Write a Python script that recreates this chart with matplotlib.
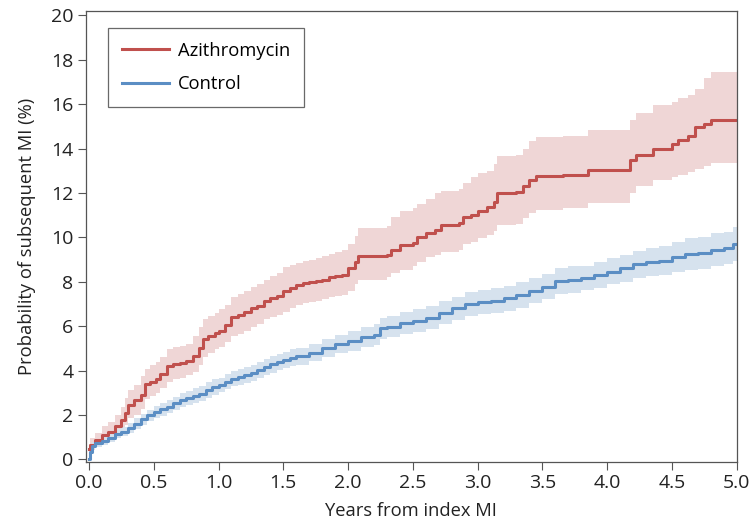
#!/usr/bin/env python3
"""Cumulative incidence of subsequent MI: azithromycin vs control."""
import matplotlib

matplotlib.use("Agg")
import matplotlib.pyplot as plt

plt.rcParams["font.family"] = ["Open Sans", "DejaVu Sans"]

# Azithromycin: time (years), estimate, lower/upper band (%)
azi_t = [0.0, 0.01, 0.05, 0.1, 0.15, 0.2, 0.25, 0.28, 0.3, 0.35, 0.4, 0.43,
         0.47, 0.52, 0.55, 0.6, 0.65, 0.7, 0.75, 0.8, 0.85, 0.88, 0.92, 0.97,
         1.0, 1.05, 1.1, 1.15, 1.2, 1.25, 1.3, 1.35, 1.4, 1.45, 1.5, 1.55,
         1.6, 1.65, 1.7, 1.75, 1.8, 1.85, 1.9, 1.95, 2.0, 2.05, 2.08, 2.3,
         2.33, 2.4, 2.5, 2.53, 2.6, 2.67, 2.72, 2.86, 2.89, 2.95, 3.0, 3.07,
         3.13, 3.15, 3.3, 3.35, 3.4, 3.45, 3.66, 3.85, 4.18, 4.22, 4.35, 4.5,
         4.55, 4.62, 4.68, 4.75, 4.8, 5.0]
azi_est = [0.45, 0.65, 0.85, 1.1, 1.25, 1.5, 1.75, 2.1, 2.45, 2.65, 2.9, 3.4,
           3.5, 3.6, 3.85, 4.2, 4.3, 4.32, 4.45, 4.65, 5.0, 5.4, 5.55, 5.7,
           5.8, 6.05, 6.4, 6.5, 6.65, 6.8, 6.9, 7.15, 7.25, 7.35, 7.6, 7.7,
           7.85, 7.95, 8.0, 8.05, 8.1, 8.2, 8.25, 8.3, 8.6, 8.9, 9.15, 9.2,
           9.45, 9.65, 9.75, 10.0, 10.2, 10.35, 10.55, 10.65, 10.9, 11.0, 11.2, 11.35,
           11.6, 12.0, 12.05, 12.3, 12.6, 12.75, 12.8, 13.05, 13.5, 13.7, 14.0, 14.2,
           14.4, 14.55, 14.95, 15.1, 15.3, 15.3]
azi_lo = [0.3, 0.4, 0.55, 0.75, 0.9, 1.05, 1.3, 1.55, 1.85, 2.0, 2.25, 2.7,
          2.85, 3.0, 3.2, 3.5, 3.6, 3.65, 3.8, 3.95, 4.25, 4.6, 4.8, 4.95,
          5.05, 5.3, 5.55, 5.65, 5.8, 5.95, 6.1, 6.3, 6.4, 6.5, 6.65, 6.8,
          6.95, 7.05, 7.1, 7.15, 7.2, 7.3, 7.35, 7.4, 7.6, 7.9, 8.1, 8.2,
          8.4, 8.55, 8.7, 8.9, 9.1, 9.2, 9.35, 9.45, 9.7, 9.8, 9.95, 10.1,
          10.3, 10.55, 10.6, 10.85, 11.1, 11.25, 11.3, 11.55, 12.0, 12.3, 12.6, 12.7,
          12.8, 12.95, 13.1, 13.2, 13.35, 13.35]
azi_hi = [0.7, 0.95, 1.2, 1.5, 1.7, 2.0, 2.35, 2.75, 3.1, 3.35, 3.75, 4.05,
          4.25, 4.4, 4.6, 4.95, 5.05, 5.1, 5.2, 5.55, 5.95, 6.3, 6.45, 6.6,
          6.75, 6.95, 7.3, 7.45, 7.6, 7.75, 7.9, 8.1, 8.25, 8.4, 8.65, 8.75,
          8.85, 8.95, 9.0, 9.05, 9.15, 9.25, 9.35, 9.45, 9.7, 10.05, 10.4, 10.5,
          10.9, 11.2, 11.3, 11.5, 11.75, 12.0, 12.1, 12.2, 12.45, 12.7, 12.9, 13.0,
          13.3, 13.65, 13.7, 14.0, 14.35, 14.5, 14.55, 14.85, 15.3, 15.6, 15.95, 16.1,
          16.3, 16.4, 16.7, 17.2, 17.45, 17.45]

# Control
ctl_t = [0.0, 0.005, 0.02, 0.05, 0.1, 0.15, 0.2, 0.25, 0.3, 0.35, 0.4, 0.45,
         0.5, 0.55, 0.6, 0.65, 0.7, 0.75, 0.8, 0.85, 0.9, 0.95, 1.0, 1.05,
         1.1, 1.15, 1.2, 1.25, 1.3, 1.35, 1.4, 1.45, 1.5, 1.55, 1.6, 1.7,
         1.8, 1.9, 2.0, 2.1, 2.2, 2.25, 2.3, 2.4, 2.5, 2.6, 2.7, 2.8,
         2.9, 3.0, 3.1, 3.2, 3.3, 3.4, 3.5, 3.6, 3.7, 3.8, 3.9, 4.0,
         4.1, 4.2, 4.3, 4.4, 4.5, 4.6, 4.7, 4.8, 4.9, 4.97, 5.0]
ctl_est = [0.0, 0.35, 0.6, 0.72, 0.82, 0.95, 1.15, 1.25, 1.42, 1.6, 1.8, 1.98,
           2.15, 2.25, 2.37, 2.52, 2.67, 2.75, 2.87, 2.95, 3.12, 3.25, 3.35, 3.5,
           3.63, 3.72, 3.8, 3.9, 4.02, 4.15, 4.28, 4.38, 4.48, 4.58, 4.65, 4.8,
           5.0, 5.18, 5.35, 5.5, 5.62, 5.9, 5.98, 6.15, 6.25, 6.38, 6.6, 6.8,
           6.98, 7.08, 7.15, 7.26, 7.4, 7.6, 7.78, 8.05, 8.1, 8.16, 8.3, 8.46,
           8.6, 8.78, 8.9, 8.95, 9.1, 9.25, 9.3, 9.45, 9.52, 9.7, 9.7]
ctl_lo = [0.0, 0.2, 0.45, 0.56, 0.64, 0.76, 0.95, 1.03, 1.2, 1.37, 1.55, 1.72,
          1.88, 1.97, 2.08, 2.22, 2.36, 2.43, 2.54, 2.61, 2.77, 2.89, 3.02, 3.16,
          3.29, 3.37, 3.45, 3.54, 3.66, 3.78, 3.91, 4.01, 4.11, 4.2, 4.27, 4.41,
          4.6, 4.78, 4.9, 5.04, 5.15, 5.42, 5.5, 5.66, 5.75, 5.87, 6.08, 6.27,
          6.44, 6.53, 6.6, 6.7, 6.83, 7.03, 7.2, 7.46, 7.51, 7.62, 7.74, 7.88,
          8.0, 8.15, 8.25, 8.29, 8.42, 8.55, 8.58, 8.72, 8.78, 8.95, 8.95]
ctl_hi = [0.0, 0.5, 0.78, 0.9, 1.0, 1.15, 1.36, 1.47, 1.65, 1.84, 2.05, 2.24,
          2.42, 2.53, 2.66, 2.82, 2.98, 3.07, 3.2, 3.29, 3.47, 3.61, 3.68, 3.84,
          3.97, 4.07, 4.15, 4.26, 4.38, 4.52, 4.65, 4.75, 4.85, 4.96, 5.03, 5.19,
          5.4, 5.58, 5.8, 5.96, 6.09, 6.38, 6.46, 6.64, 6.75, 6.89, 7.12, 7.33,
          7.52, 7.63, 7.7, 7.82, 7.97, 8.17, 8.36, 8.64, 8.69, 8.72, 8.88, 9.05,
          9.2, 9.4, 9.53, 9.6, 9.78, 9.95, 10.02, 10.18, 10.26, 10.45, 10.45]

x_ticks = [0.0, 0.5, 1.0, 1.5, 2.0, 2.5, 3.0, 3.5, 4.0, 4.5, 5.0]
y_ticks = [0, 2, 4, 6, 8, 10, 12, 14, 16, 18, 20]

RED, RED_BAND = "#c0504d", "#efd6d6"
BLUE, BLUE_BAND = "#5b8ec4", "#d6e2ee"


def main():
    fig = plt.figure(figsize=(7.51, 5.21), dpi=100)
    ax = fig.add_axes([0.1145, 0.1133, 0.8665, 0.8657])

    ax.fill_between(azi_t, azi_lo, azi_hi, step="post", color=RED_BAND, lw=0)
    ax.fill_between(ctl_t, ctl_lo, ctl_hi, step="post", color=BLUE_BAND, lw=0)
    ax.step(azi_t, azi_est, where="post", color=RED, lw=2.2, label="Azithromycin")
    ax.step(ctl_t, ctl_est, where="post", color=BLUE, lw=2.2, label="Control")

    ax.set_xlim(-0.023, 5.0)
    ax.set_ylim(-0.12, 20.2)
    ax.set_xticks(x_ticks)
    ax.set_xticklabels([f"{v:.1f}" for v in x_ticks])
    ax.set_yticks(y_ticks)
    ax.tick_params(direction="out", length=6, width=0.8, color="#555555",
                   labelsize=14, labelcolor="#222222", pad=3)
    for s in ax.spines.values():
        s.set_color("#555555")
        s.set_linewidth(0.9)

    ax.set_xlabel("Years from index MI", fontsize=13.2, color="#222222", labelpad=7)
    ax.set_ylabel("Probability of subsequent MI (%)", fontsize=13.2, color="#222222",
                  labelpad=11)

    leg = ax.legend(loc="upper left", bbox_to_anchor=(0.0338, 0.9623), fontsize=13.2,
                    frameon=True, fancybox=False, edgecolor="#444444",
                    borderaxespad=0, handlelength=2.57, handletextpad=0.5,
                    borderpad=0.75, labelspacing=0.85)
    leg.get_frame().set_linewidth(0.9)

    fig.savefig("out.png", dpi=100)


if __name__ == "__main__":
    main()
